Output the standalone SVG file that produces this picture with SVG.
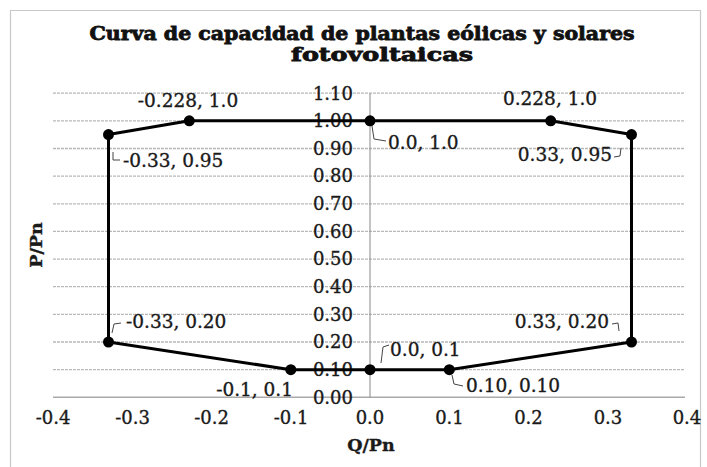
<svg xmlns="http://www.w3.org/2000/svg" width="707" height="467" viewBox="0 0 707 467">
<style>
text{font-family:"DejaVu Serif","Liberation Serif",serif;fill:#1a1a1a;stroke:#1a1a1a;stroke-width:0.35}
.title{font-size:18px;font-weight:bold;text-anchor:middle;fill:#111;stroke:#111;stroke-width:0.8}
.tick{font-size:18px}
.ty{text-anchor:end}
.tx{text-anchor:middle}
.axt{font-size:17.5px;font-weight:bold;text-anchor:middle}
.lbl{font-size:18.5px}
.grid{stroke:#b8b8b8;stroke-width:1.3;stroke-dasharray:3 1}
.leader{fill:none;stroke:#444;stroke-width:1}
.curve{fill:none;stroke:#000;stroke-width:3;stroke-linejoin:round}
.pt{fill:#000}
</style>
<rect width="707" height="467" fill="#fff"/>
<path d="M10.5 480V10.5H700.5V480" fill="none" stroke="#c8c8c8" stroke-width="1.2"/>
<g id="title">
<text class="title" x="362" y="40" textLength="545" lengthAdjust="spacingAndGlyphs">Curva de capacidad de plantas eólicas y solares</text>
<text class="title" x="382" y="61" textLength="182" lengthAdjust="spacingAndGlyphs">fotovoltaicas</text>
</g>
<g id="gridlines">
<line class="grid" x1="53" y1="93.2" x2="685" y2="93.2"/>
<line class="grid" x1="53" y1="120.8" x2="685" y2="120.8"/>
<line class="grid" x1="53" y1="148.5" x2="685" y2="148.5"/>
<line class="grid" x1="53" y1="176.1" x2="685" y2="176.1"/>
<line class="grid" x1="53" y1="203.8" x2="685" y2="203.8"/>
<line class="grid" x1="53" y1="231.4" x2="685" y2="231.4"/>
<line class="grid" x1="53" y1="259.1" x2="685" y2="259.1"/>
<line class="grid" x1="53" y1="286.7" x2="685" y2="286.7"/>
<line class="grid" x1="53" y1="314.4" x2="685" y2="314.4"/>
<line class="grid" x1="53" y1="342" x2="685" y2="342"/>
<line class="grid" x1="53" y1="369.7" x2="685" y2="369.7"/>
<line x1="53" y1="397.3" x2="685" y2="397.3" stroke="#aaa" stroke-width="1.5"/>
<line x1="370" y1="93.2" x2="370" y2="397.3" stroke="#888" stroke-width="1"/>
</g>
<g id="y-axis">
<text class="tick ty" x="353" y="99.5">1.10</text>
<text class="tick ty" x="353" y="127.1">1.00</text>
<text class="tick ty" x="353" y="154.8">0.90</text>
<text class="tick ty" x="353" y="182.4">0.80</text>
<text class="tick ty" x="353" y="210.1">0.70</text>
<text class="tick ty" x="353" y="237.7">0.60</text>
<text class="tick ty" x="353" y="265.4">0.50</text>
<text class="tick ty" x="353" y="293">0.40</text>
<text class="tick ty" x="353" y="320.7">0.30</text>
<text class="tick ty" x="353" y="348.3">0.20</text>
<text class="tick ty" x="353" y="376">0.10</text>
<text class="tick ty" x="353" y="403.6">0.00</text>
<text class="axt" transform="translate(42,245) rotate(-90)">P/Pn</text>
</g>
<g id="x-axis">
<text class="tick tx" x="53" y="424">-0.4</text>
<text class="tick tx" x="132.5" y="424">-0.3</text>
<text class="tick tx" x="211.5" y="424">-0.2</text>
<text class="tick tx" x="291" y="424">-0.1</text>
<text class="tick tx" x="370" y="424">0.0</text>
<text class="tick tx" x="449.5" y="424">0.1</text>
<text class="tick tx" x="528.5" y="424">0.2</text>
<text class="tick tx" x="608" y="424">0.3</text>
<text class="tick tx" x="687" y="424">0.4</text>
<text class="axt" x="371" y="451">Q/Pn</text>
</g>
<g id="connectors">
<polygon class="curve" points="108.5,134.6 189.3,120.8 370,120.8 550.7,120.8 631.5,134.6 631.5,342 449.3,369.7 370,369.7 290.8,369.7 108.5,342"/>
</g>
<g id="p1"><circle class="pt" cx="108.5" cy="134.6" r="5.5"/><path class="leader" d="M113 152V160H120"/><text class="lbl" x="123" y="167">-0.33, 0.95</text></g>
<g id="p2"><circle class="pt" cx="189.3" cy="120.8" r="5.5"/><text class="lbl tx" x="188" y="107">-0.228, 1.0</text></g>
<g id="p3"><circle class="pt" cx="370" cy="120.8" r="5.5"/><path class="leader" d="M372 126L374 139L386 141"/><text class="lbl" x="388" y="149">0.0, 1.0</text></g>
<g id="p4"><circle class="pt" cx="550.7" cy="120.8" r="5.5"/><text class="lbl tx" x="550" y="105">0.228, 1.0</text></g>
<g id="p5"><circle class="pt" cx="631.5" cy="134.6" r="5.5"/><path class="leader" d="M614 157L620 156L621 148"/><text class="lbl" x="612" y="161" text-anchor="end">0.33, 0.95</text></g>
<g id="p6"><circle class="pt" cx="631.5" cy="342" r="5.5"/><path class="leader" d="M612 324L618 323L619 331"/><text class="lbl" x="609" y="328" text-anchor="end">0.33, 0.20</text></g>
<g id="p7"><circle class="pt" cx="449.3" cy="369.7" r="5.5"/><path class="leader" d="M452 375L454 384L463 386"/><text class="lbl" x="466" y="392">0.10, 0.10</text></g>
<g id="p8"><circle class="pt" cx="370" cy="369.7" r="5.5"/><path class="leader" d="M381 363L383 347L389 345"/><text class="lbl" x="390" y="356">0.0, 0.1</text></g>
<g id="p9"><circle class="pt" cx="290.8" cy="369.7" r="5.5"/><text class="lbl" x="293" y="396" text-anchor="end">-0.1, 0.1</text></g>
<g id="p10"><circle class="pt" cx="108.5" cy="342" r="5.5"/><path class="leader" d="M112 333L114 324L121 323"/><text class="lbl" x="126" y="328">-0.33, 0.20</text></g>
</svg>
